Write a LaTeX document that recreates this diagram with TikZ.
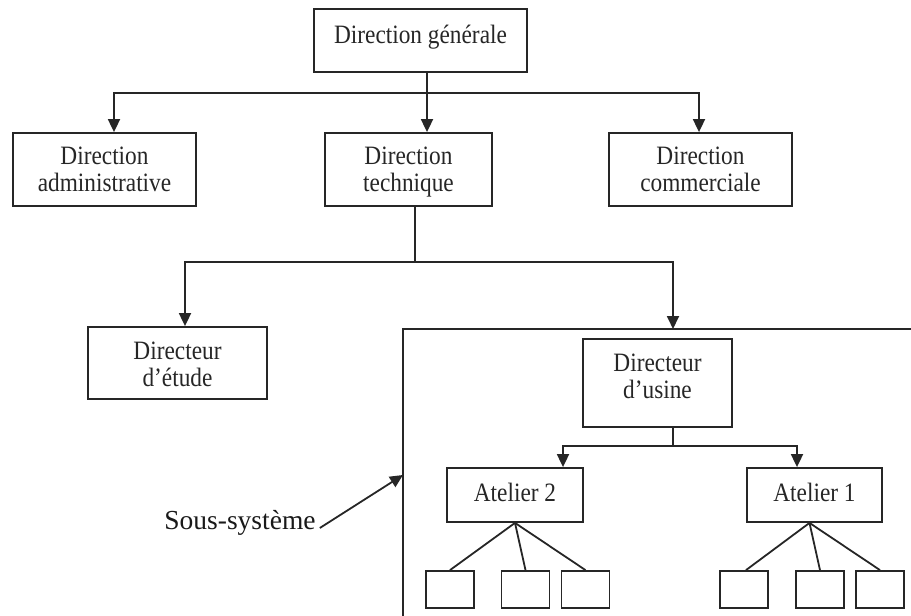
\documentclass[tikz,border=0pt]{standalone}
\usepackage{fontspec}
\setmainfont{Liberation Serif}[FakeStretch=0.88]
\newfontfamily\labelfont{Liberation Serif}
\usetikzlibrary{arrows.meta}
\newcommand\hst[1]{\rule{0pt}{#1}}
\newcommand\dst[1]{\rule[-#1]{0pt}{#1}}
\begin{document}
\begin{tikzpicture}[x=1pt,y=-1pt,
  box/.style={draw=black!85, line width=1.8pt, align=center, inner sep=0pt,
    font=\fontsize{26.5}{27}\selectfont, text=black!85},
  smallbox/.style={draw=black!85, line width=1.8pt, minimum width=48pt, minimum height=37pt, inner sep=0pt},
  ln/.style={draw=black!85, line width=1.8pt},
  arr/.style={-{Triangle[width=12pt,length=13pt]}}]
\useasboundingbox (0,0) rectangle (911,616);

% boxes
\node[box, minimum width=213pt, minimum height=63pt] (dg) at (420.5,40.5) {Direction générale\dst{13pt}};
\node[box, minimum width=183pt, minimum height=73pt] (da) at (104.5,169.5) {\hst{22pt}Direction\\administrative\dst{6pt}};
\node[box, minimum width=167pt, minimum height=73pt] (dt) at (408.5,169.5) {\hst{22pt}Direction\\technique\dst{6pt}};
\node[box, minimum width=183pt, minimum height=73pt] (dc) at (700.5,169.5) {\hst{22pt}Direction\\commerciale\dst{6pt}};
\node[box, minimum width=179pt, minimum height=72pt] (de) at (177.5,363) {\hst{24pt}Directeur\\d’étude\dst{5pt}};
\node[box, minimum width=149pt, minimum height=88pt] (du) at (657.5,383) {\hst{19pt}Directeur\\d’usine\dst{16pt}};
\node[box, minimum width=136pt, minimum height=54pt] (a2) at (515,495) {Atelier 2\dst{6pt}};
\node[box, minimum width=135pt, minimum height=54pt] (a1) at (814.5,495) {Atelier 1\dst{6pt}};

\node[smallbox] (s1) at (450,589.5) {};
\node[smallbox] (s2) at (525.5,589.5) {};
\node[smallbox] (s3) at (585.5,589.5) {};
\node[smallbox] (s4) at (744,589.5) {};
\node[smallbox] (s5) at (820,589.5) {};
\node[smallbox] (s6) at (880,589.5) {};

% sub-system frame (open to the right and bottom)
\coordinate (bbl) at (403,329);
\coordinate (bbr) at (913,329);
\coordinate (bbb) at (403,618);
\coordinate (bbtop) at (673,329);
\coordinate (bbside) at (403,475);
\draw[ln] (bbr) -- (bbl) -- (bbb);

% junctions
\coordinate (j0) at (427,93);
\coordinate (j1) at (415,262);
\coordinate (j2) at (673,446);

\draw[ln] (dg.south -| j0) -- (j0);
\draw[ln,arr] (j0) -- (dt.north -| j0);
\draw[ln,arr] (j0) -| ([xshift=9.5pt]da.north);
\draw[ln,arr] (j0) -| ([xshift=-1.5pt]dc.north);

\draw[ln] (dt.south -| j1) -- (j1);
\draw[ln,arr] (j1) -| ([xshift=7.5pt]de.north);
\draw[ln,arr] (j1) -| (bbtop);

\draw[ln] (du.south -| j2) -- (j2);
\draw[ln,arr] (j2) -| ([xshift=48pt]a2.north);
\draw[ln,arr] (j2) -| ([xshift=-17.5pt]a1.north);

\draw[ln] (a2.south) -- (s1.north);
\draw[ln] (a2.south) -- (s2.north);
\draw[ln] (a2.south) -- (s3.north);
\draw[ln] ([xshift=-5pt]a1.south) -- ([xshift=2pt]s4.north);
\draw[ln] ([xshift=-5pt]a1.south) -- (s5.north);
\draw[ln] ([xshift=-5pt]a1.south) -- (s6.north);

% label
\node[inner sep=4pt, font=\labelfont\fontsize{27.5}{30}\selectfont, text=black!90] (ss) at (240,523) {Sous-système};
\draw[ln,arr] ([yshift=-5pt]ss.east) -- (bbside);
\end{tikzpicture}
\end{document}
